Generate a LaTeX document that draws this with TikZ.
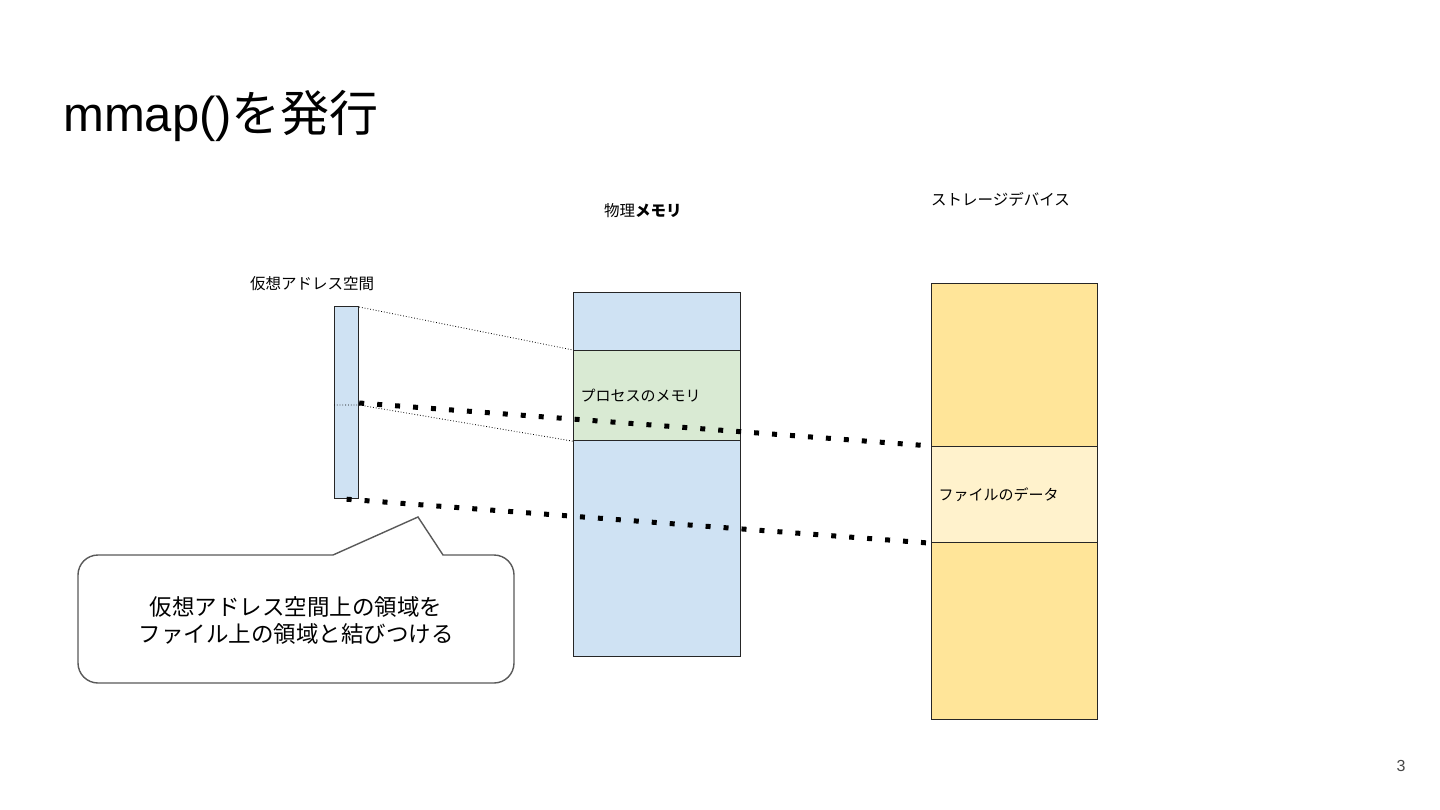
\documentclass[tikz,border=0pt]{standalone}
\usepackage{fontspec}
\setmainfont{Liberation Sans}
\newfontfamily\jp{Noto Sans CJK JP}
\definecolor{vblue}{HTML}{CFE2F3}
\definecolor{vgreen}{HTML}{D9EAD3}
\definecolor{vorange}{HTML}{FFE599}
\definecolor{vlight}{HTML}{FFF2CC}
\definecolor{vgray}{HTML}{595959}
\definecolor{vborder}{HTML}{262626}
\tikzset{
  box/.style={draw=vborder, line width=1.2pt, inner sep=0pt, anchor=north west},
  tbox/.style={box, inner xsep=7pt, align=left, font=\jp\fontsize{15}{18}\selectfont},
  lbl/.style={font=\jp\fontsize{15.5}{18}\selectfont, inner sep=0pt},
  thinlink/.style={line width=0.8pt, dotted, black},
  thicklink/.style={line width=5pt, dash pattern=on 5pt off 13pt, black},
}
\begin{document}
\begin{tikzpicture}[x=1pt,y=-1pt]
\useasboundingbox (0,0) rectangle (1440,810);
% title
\node[anchor=base west, inner sep=0pt] (title) at (63,132)
  {\fontsize{49}{53}\selectfont mmap()\jp を発行};
% virtual address space
\node[lbl, anchor=west] (valbl) at (250,284) {仮想アドレス空間};
\node[box, fill=vblue, minimum width=24pt, minimum height=192pt] (va) at (334,306) {};
% physical memory
\node[lbl, anchor=west] (pmlbl) at (604,211) {物理\textbf{メモリ}};
\node[box, fill=vblue, minimum width=167pt, minimum height=58pt] (pmtop) at (573,292) {};
\node[tbox, fill=vgreen, minimum height=90pt, text width=153pt] (pmmid) at (573,350) {プロセスのメモリ};
\node[box, fill=vblue, minimum width=167pt, minimum height=216pt] (pmbot) at (573,440) {};
% storage
\node[lbl, anchor=west] (stlbl) at (931,199) {ストレージデバイス};
\node[box, fill=vorange, minimum width=166pt, minimum height=163pt] (sttop) at (931,283) {};
\node[tbox, fill=vlight, minimum height=96pt, text width=152pt] (stmid) at (931,446) {ファイルのデータ};
\node[box, fill=vorange, minimum width=166pt, minimum height=177pt] (stbot) at (931,542) {};
% connectors
\coordinate (vamid) at ([yshift=-99pt]va.north east);
\coordinate (vamidw) at ([yshift=-99pt]va.north west);
\draw[thinlink] ([yshift=-1pt]va.north east) -- (pmmid.north west);
\draw[thinlink] (vamidw) -- (vamid) -- (pmmid.south west);
\draw[thicklink] ([yshift=-97pt]va.north east) -- (stmid.north west);
\draw[thicklink] (va.south) -- (stmid.south west);
% callout
\draw[vgray, line width=1.4pt, fill=white]
  (333,555) -- (418,517) -- (443,555) [rounded corners=20pt] -- (514,555) -- (514,683) -- (78,683) -- (78,555) [sharp corners] -- cycle;
\node[align=center, inner sep=0pt, font=\jp\fontsize{22.5}{27}\selectfont] (callout) at (296,620)
  {仮想アドレス空間上の領域を\\ファイル上の領域と結びつける};
% page number
\node[text=vgray!80!black, font=\fontsize{16}{18}\selectfont, inner sep=0pt] (pgno) at (1401,766) {3};
\end{tikzpicture}
\end{document}
